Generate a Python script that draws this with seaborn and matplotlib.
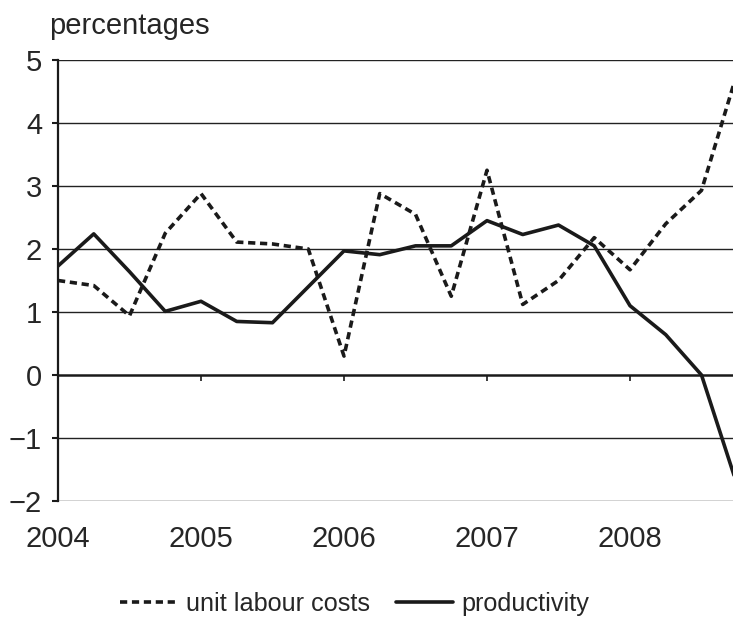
import numpy as np
import pandas as pd
import matplotlib.pyplot as plt
import seaborn as sns

# quarterly data, 2004Q1 - 2008Q4 (percentages)
years = [2004, 2005, 2006, 2007, 2008]
quarters = [f"{y}Q{q}" for y in years for q in range(1, 5)]
unit_labour_costs = [1.50, 1.42, 0.94, 2.25, 2.88, 2.11, 2.08, 2.00, 0.30, 2.88,
                     2.55, 1.25, 3.25, 1.12, 1.50, 2.18, 1.67, 2.40, 2.93, 4.80]
productivity = [1.73, 2.24, 1.64, 1.01, 1.17, 0.85, 0.83, 1.40, 1.97, 1.91,
                2.05, 2.05, 2.45, 2.23, 2.38, 2.05, 1.10, 0.64, 0.00, -1.75]
series_names = ['unit labour costs', 'productivity']
y_ticks = [-2, -1, 0, 1, 2, 3, 4, 5]

# ---- build long table ----
t = [int(q[:4]) + (int(q[-1]) - 1) / 4 for q in quarters]
df = pd.DataFrame({
    't': t * 2,
    'value': unit_labour_costs + productivity,
    'series': [series_names[0]] * len(t) + [series_names[1]] * len(t),
})

sns.set_theme(style='white')
plt.rcParams['font.family'] = ['Liberation Sans', 'DejaVu Sans']
fs = 21

fig = plt.figure(figsize=(7.33, 6.24), dpi=100)
ax = fig.add_axes([58 / 733, 1 - 501 / 624, 1 - 58 / 733, (501 - 60) / 624])

ink = '#1a1a1a'
sns.lineplot(data=df, x='t', y='value', style='series', style_order=series_names,
             dashes={series_names[0]: (2, 1.3), series_names[1]: ''},
             color=ink, linewidth=2.6, ax=ax, legend=False)

ax.set_xlim(2004, 2004 + (733 - 58) / 143)
ax.set_ylim(-2, 5)
ax.set_xlabel('')
ax.set_ylabel('')

# horizontal grid
for yv in y_ticks:
    if yv != 0:
        ax.axhline(yv, color='#222222', lw=1.0, zorder=0)

# y axis
ax.set_yticks(y_ticks)
ax.tick_params(axis='y', direction='out', length=4.5, width=1.5, color=ink,
               labelsize=fs, pad=7, left=True)
for s in ['top', 'right']:
    ax.spines[s].set_visible(False)
ax.spines['left'].set_color(ink)
ax.spines['left'].set_linewidth(1.6)

# x axis crossing at zero, labels at the bottom
ax.spines['bottom'].set_position(('data', 0))
ax.spines['bottom'].set_color(ink)
ax.spines['bottom'].set_linewidth(1.8)
ax.set_xticks(years)
ax.tick_params(axis='x', direction='out', length=4.5, width=1.2, color=ink,
               labelbottom=False, bottom=True)

sec = ax.secondary_xaxis('bottom')
sec.set_xticks(years)
sec.set_xticklabels([str(y) for y in years])
sec.tick_params(length=0, pad=17, labelsize=fs)
sec.spines['bottom'].set_visible(False)

fig.text(49 / 733, 1 - 26 / 624, 'percentages', fontsize=fs, va='center', ha='left')

handles = ax.get_lines()[:2]
fig.legend(handles, series_names, loc='center', bbox_to_anchor=(355 / 733, 1 - 604 / 624),
           ncol=2, frameon=False, fontsize=18.2, handlelength=2.25, handletextpad=0.36,
           columnspacing=1.0)

fig.savefig('out.png', dpi=100)
